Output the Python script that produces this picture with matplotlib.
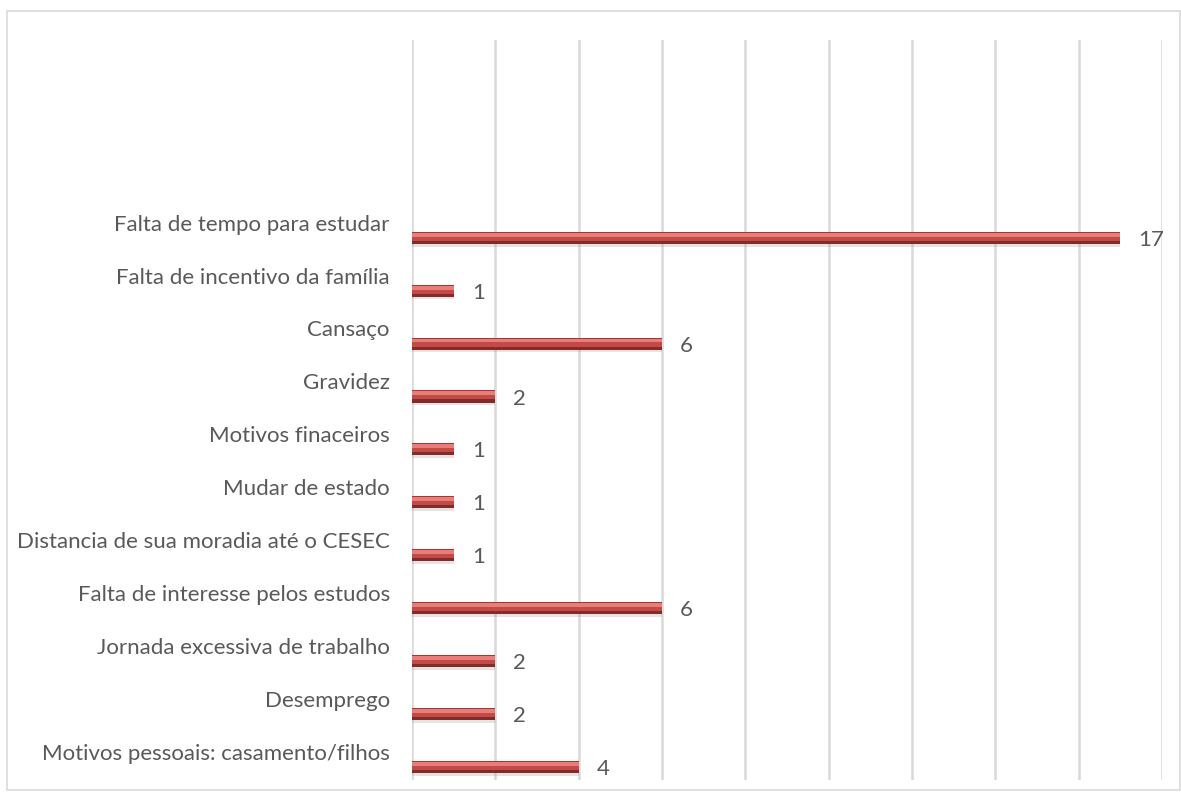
import matplotlib
matplotlib.use("Agg")
import matplotlib.pyplot as plt
from matplotlib.patches import Rectangle

categories = [
    "Falta de tempo para estudar",
    "Falta de incentivo da família",
    "Cansaço",
    "Gravidez",
    "Motivos finaceiros",
    "Mudar de estado",
    "Distancia de sua moradia até o CESEC",
    "Falta de interesse pelos estudos",
    "Jornada excessiva de trabalho",
    "Desemprego",
    "Motivos pessoais: casamento/filhos",
]
values = [17, 1, 6, 2, 1, 1, 1, 6, 2, 2, 4]
x_ticks = list(range(0, 19, 2))

plt.rcParams["font.family"] = ["Lato", "DejaVu Sans"]

W, H = 1181, 800
fig = plt.figure(figsize=(W / 100, H / 100), dpi=100)
fig.patch.set_facecolor("white")

# chart frame
fig.patches.append(Rectangle((7 / W, 10 / H), (W - 8) / W, (H - 21) / H,
                             transform=fig.transFigure, fill=False,
                             edgecolor="#d9d9d9", linewidth=1.2))

left, right = 412 / W, 1162 / W
top, bottom = 1 - 40 / H, 1 - 780 / H
ax = fig.add_axes([left, bottom, right - left, top - bottom])
ax.set_xlim(0, 18)
ax.set_ylim(len(categories) - 0.75, -3.74)

for s in ax.spines.values():
    s.set_visible(False)
ax.set_xticks(x_ticks)
ax.set_xticklabels([])
ax.set_yticks([])
ax.tick_params(length=0)
ax.grid(axis="x", color="#d9d9d9", linewidth=1.8)
ax.set_axisbelow(True)

pos = list(range(len(categories)))
h = 0.23
# soft shadow, body, bevel highlight and darker lower edge
ax.barh([p + 0.05 for p in pos], values, height=h, color="#888888", alpha=0.22,
        linewidth=0, zorder=2)
ax.barh(pos, values, height=h, color="#c24a47", linewidth=0, zorder=3)
ax.barh([p - 0.06 for p in pos], values, height=0.075, color="#e87d7a",
        linewidth=0, zorder=4)
ax.barh([p - 0.105 for p in pos], values, height=0.02, color="#a83532",
        linewidth=0, zorder=5)
ax.barh([p + 0.085 for p in pos], values, height=0.06, color="#832b29",
        linewidth=0, zorder=4)

for p, cat, v in zip(pos, categories, values):
    ax.annotate(cat, xy=(0, p), xytext=(-16, 9.5), textcoords="offset points",
                ha="right", va="center", fontsize=16, color="#595959")
    ax.annotate(str(v), xy=(v, p), xytext=(13, -1.5), textcoords="offset points",
                ha="left", va="center", fontsize=16, color="#595959")

fig.savefig("out.png", dpi=100)
